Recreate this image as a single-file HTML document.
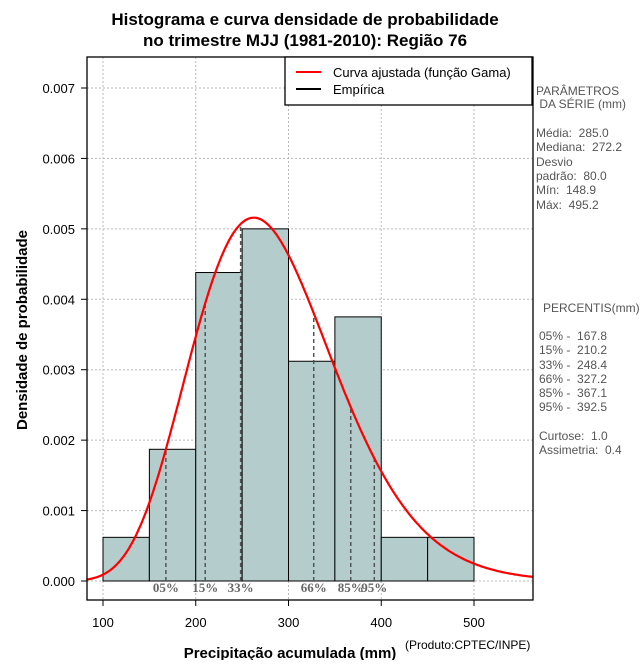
<!DOCTYPE html>
<html><head><meta charset="utf-8"><style>
body{margin:0;background:#fff;width:640px;height:660px;overflow:hidden}
svg{font-family:"Liberation Sans","DejaVu Sans",sans-serif}
text{white-space:pre}
</style></head><body>
<svg id="c" width="640" height="660" xmlns="http://www.w3.org/2000/svg">
<text x="305" y="25" text-anchor="middle" font-size="17" font-weight="bold">Histograma e curva densidade de probabilidade</text>
<text x="305" y="46" text-anchor="middle" font-size="17" font-weight="bold">no trimestre MJJ (1981-2010): Região 76</text>
<text x="290" y="658" text-anchor="middle" font-size="15" font-weight="bold">Precipitação acumulada (mm)</text>
<text x="405" y="649" font-size="12">(Produto:CPTEC/INPE)</text>
<text transform="translate(27,330) rotate(-90)" text-anchor="middle" font-size="15" font-weight="bold">Densidade de probabilidade</text>
<g id="grid"></g>
<g id="bars"></g>
<g id="pct"></g>
<g id="curve"></g>
<g id="axes"></g>
<g>
<rect x="285" y="57" width="247" height="48" fill="#fff" stroke="#000" stroke-width="1.3"/>
<line x1="296" y1="72" x2="321" y2="72" stroke="#f00" stroke-width="2"/>
<text x="333" y="77" font-size="13">Curva ajustada (função Gama)</text>
<line x1="296" y1="89" x2="321" y2="89" stroke="#000" stroke-width="2"/>
<text x="333" y="94" font-size="13">Empírica</text>
</g>
<g font-size="12" fill="#555">
<text x="536" y="95">PARÂMETROS</text>
<text x="536" y="108"> DA SÉRIE (mm)</text>
<text x="536" y="137">Média:  285.0</text>
<text x="536" y="151">Mediana:  272.2</text>
<text x="536" y="166">Desvio</text>
<text x="536" y="180">padrão:  80.0</text>
<text x="536" y="194">Mín:  148.9</text>
<text x="536" y="209">Máx:  495.2</text>
<text x="543" y="312">PERCENTIS(mm)</text>
<text x="539" y="340">05% -  167.8</text>
<text x="539" y="354">15% -  210.2</text>
<text x="539" y="369">33% -  248.4</text>
<text x="539" y="383">66% -  327.2</text>
<text x="539" y="397">85% -  367.1</text>
<text x="539" y="411">95% -  392.5</text>
<text x="539" y="440">Curtose:  1.0</text>
<text x="539" y="454">Assimetria:  0.4</text>
</g>
</svg>
<script>
const binEdges=[100,150,200,250,300,350,400,450,500];
const binDensity=[0.00062,0.00187,0.00438,0.0050,0.00312,0.00375,0.00062,0.00062];
const pctLabels=["05%","15%","33%","66%","85%","95%"];
const pctValues=[167.8,210.2,248.4,327.2,367.1,392.5];
const xTicks=[100,200,300,400,500];
const yTicks=[0,0.001,0.002,0.003,0.004,0.005,0.006,0.007];
const meanVal=285.0, sdVal=80.0;
const X0=87,X1=533,Y0=57,Y1=600;
const xs=v=>103+(v-100)*371/400;
const ys=v=>581-v*70430;
const NS="http://www.w3.org/2000/svg";
function mk(p,t,a){const e=document.createElementNS(NS,t);for(const k in a)e.setAttribute(k,a[k]);document.getElementById(p).appendChild(e);return e;}
function lgam(z){const g=7,c=[0.99999999999980993,676.5203681218851,-1259.1392167224028,771.32342877765313,-176.61502916214059,12.507343278686905,-0.13857109526572012,9.9843695780195716e-6,1.5056327351493116e-7];z-=1;let x=c[0];for(let i=1;i<9;i++)x+=c[i]/(z+i);const t=z+g+0.5;return 0.5*Math.log(2*Math.PI)+(z+0.5)*Math.log(t)-t+Math.log(x);}
const shape=(meanVal/sdVal)**2, scale=sdVal*sdVal/meanVal;
const pdf=x=>Math.exp((shape-1)*Math.log(x)-x/scale-lgam(shape)-shape*Math.log(scale));
for(const t of xTicks){const l=mk('grid','line',{x1:xs(t),x2:xs(t),y1:Y0,y2:Y1,stroke:'#bbb','stroke-dasharray':'2,2'});}
for(const t of yTicks){const l=mk('grid','line',{x1:X0,x2:X1,y1:ys(t),y2:ys(t),stroke:'#bbb','stroke-dasharray':'2,2'});}
binDensity.forEach((d,i)=>{const r=mk('bars','rect',{x:xs(binEdges[i]),y:ys(d),width:xs(binEdges[i+1])-xs(binEdges[i]),height:ys(0)-ys(d),fill:'#b4cccc',stroke:'#000','stroke-width':1});

});
mk('bars','line',{x1:xs(binEdges[0]),x2:xs(binEdges[binEdges.length-1]),y1:ys(0),y2:ys(0),stroke:'#000','stroke-dasharray':'1,2'});
pctValues.forEach((v,i)=>{const l=mk('pct','line',{x1:xs(v),x2:xs(v),y1:ys(0),y2:ys(pdf(v)),stroke:'#555','stroke-width':1.5,'stroke-dasharray':'4,3'});


const t=mk('pct','text',{x:xs(v),y:592,'text-anchor':'middle','font-size':13,'font-weight':'bold',fill:'#666','font-family':'"Liberation Serif",serif'});t.textContent=pctLabels[i];

});
let d='';for(let x=82;x<=564;x+=2){d+=(x===82?'M':'L')+xs(x).toFixed(1)+','+ys(pdf(x)).toFixed(1);}
const cp=mk('curve','path',{d:d,fill:'none',stroke:'#f00','stroke-width':2.2});


mk('axes','rect',{x:X0,y:Y0,width:X1-X0,height:Y1-Y0,fill:'none',stroke:'#000','stroke-width':1.3});
for(const t of xTicks){mk('axes','line',{x1:xs(t),x2:xs(t),y1:Y1,y2:Y1+6,stroke:'#000'});const e=mk('axes','text',{x:xs(t),y:Y1+27,'text-anchor':'middle','font-size':13});e.textContent=t;

}
for(const t of yTicks){mk('axes','line',{x1:X0-6,x2:X0,y1:ys(t),y2:ys(t),stroke:'#000'});const e=mk('axes','text',{x:X0-12,y:ys(t)+5,'text-anchor':'end','font-size':13});e.textContent=t.toFixed(3);

}
</script>
</body></html>
